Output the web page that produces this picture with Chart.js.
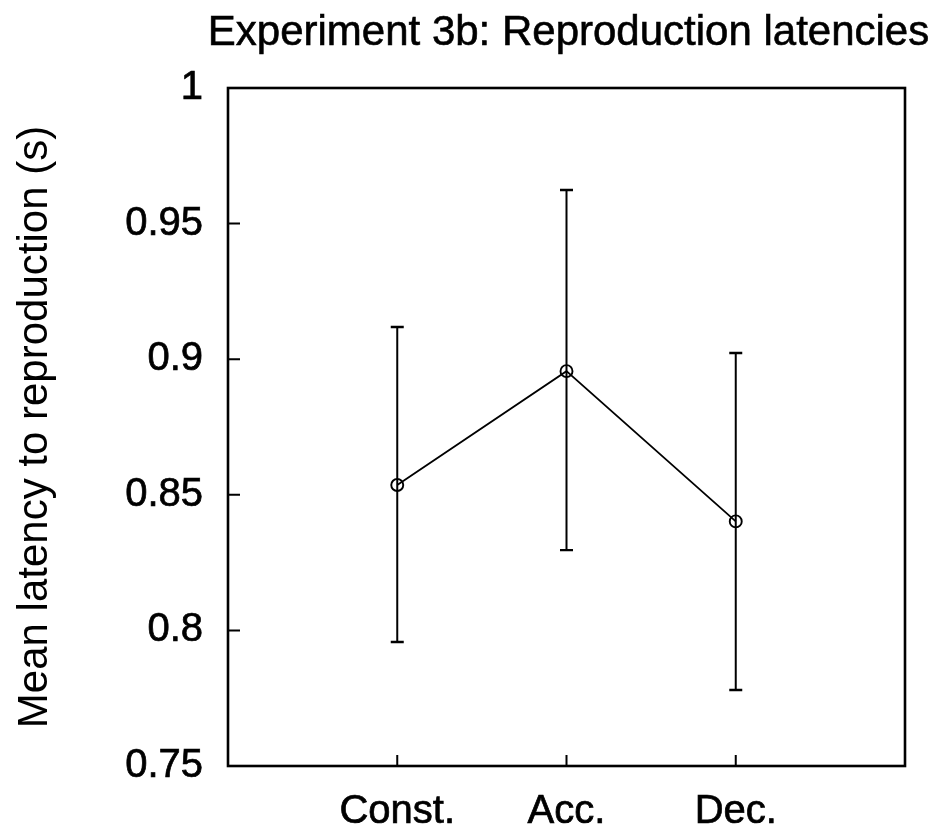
<!DOCTYPE html>
<html>
<head>
<meta charset="utf-8">
<script src="https://cdn.jsdelivr.net/npm/chart.js@4"></script>
<style>
html,body{margin:0;padding:0;background:#fff;}
#wrap{width:936px;height:837px;}
</style>
</head>
<body>
<div id="wrap"><canvas id="c" width="936" height="837"></canvas></div>
<script>
const chartTitle = 'Experiment 3b: Reproduction latencies';
const yAxisTitle = 'Mean latency to reproduction (s)';
const categories = ["Const.", "Acc.", "Dec."];
const xPositions = [1, 2, 3];
const meanLatency = [0.8536, 0.8956, 0.8402];
const upperBound = [0.9119, 0.9624, 0.9023];
const lowerBound = [0.7957, 0.8296, 0.7780];
const yTickValues = [0.75, 0.8, 0.85, 0.9, 0.95, 1];

const FONT = "'Liberation Sans', Arial, sans-serif";

const framePlugin = {
  id: 'frame',
  beforeDatasetsDraw(chart) {
    const ctx = chart.ctx, xs = chart.scales.x, ys = chart.scales.y;
    ctx.save();
    ctx.strokeStyle = '#000';
    for (let i = 0; i < xPositions.length; i++) {
      const px = xs.getPixelForValue(xPositions[i]);
      const pt = ys.getPixelForValue(upperBound[i]);
      const pb = ys.getPixelForValue(lowerBound[i]);
      ctx.lineWidth = 2;
      ctx.beginPath();
      ctx.moveTo(px, pt); ctx.lineTo(px, pb);
      ctx.stroke();
      ctx.lineWidth = 2.4;
      ctx.beginPath();
      ctx.moveTo(px - 6.5, pt); ctx.lineTo(px + 6.5, pt);
      ctx.moveTo(px - 6.5, pb); ctx.lineTo(px + 6.5, pb);
      ctx.stroke();
    }
    ctx.restore();
  },
  afterDraw(chart) {
    const ctx = chart.ctx, a = chart.chartArea, xs = chart.scales.x, ys = chart.scales.y;
    ctx.save();
    ctx.strokeStyle = '#000';
    ctx.lineWidth = 2.6;
    ctx.strokeRect(a.left, a.top, a.right - a.left, a.bottom - a.top);
    ctx.lineWidth = 2;
    ctx.beginPath();
    xs.ticks.forEach(t => {
      const px = xs.getPixelForValue(t.value);
      ctx.moveTo(px, a.bottom); ctx.lineTo(px, a.bottom - 11);
    });
    ys.ticks.forEach(t => {
      const py = ys.getPixelForValue(t.value);
      if (t.value <= 0.751 || t.value >= 0.999) return;
      ctx.moveTo(a.left, py); ctx.lineTo(a.left + 12, py);
    });
    ctx.stroke();
    // chart title, centred over the plot area
    ctx.fillStyle = '#000';
    ctx.font = "42px " + FONT;
    ctx.textAlign = 'center';
    ctx.textBaseline = 'alphabetic';
    ctx.lineWidth = 0.6;
    const cx = (a.left + a.right) / 2 + 2;
    ctx.fillText(chartTitle, cx, 45);
    ctx.strokeText(chartTitle, cx, 45);
    ctx.restore();
  }
};

new Chart(document.getElementById('c'), {
  type: 'line',
  data: {
    datasets: [{
      data: xPositions.map((x, i) => ({ x: x, y: meanLatency[i] })),
      borderColor: '#000',
      borderWidth: 1.8,
      pointStyle: 'circle',
      pointRadius: 6,
      pointBorderWidth: 1.9,
      pointBorderColor: '#000',
      pointBackgroundColor: 'rgba(0,0,0,0)',
      tension: 0,
      fill: false
    }]
  },
  options: {
    responsive: false,
    animation: false,
    devicePixelRatio: 1,
    layout: { padding: { left: 0, right: 31, top: 88, bottom: 0 } },
    plugins: {
      legend: { display: false },
      tooltip: { enabled: false },
      title: { display: false }
    },
    scales: {
      x: {
        type: 'linear',
        min: 0, max: 4,
        afterBuildTicks: s => { s.ticks = xPositions.map(v => ({ value: v })); },
        afterFit: s => { s.height = 71; },
        grid: { display: false, drawTicks: false },
        border: { display: false },
        ticks: {
          color: '#000',
          padding: 22,
          maxRotation: 0,
          textStrokeColor: '#000',
          textStrokeWidth: 0.7,
          font: { family: FONT, size: 40 },
          callback: v => categories[xPositions.indexOf(v)] ?? ''
        }
      },
      y: {
        type: 'linear',
        min: 0.75, max: 1,
        afterBuildTicks: s => { s.ticks = yTickValues.map(v => ({ value: v })); },
        afterFit: s => { s.width = 228; },
        grid: { display: false, drawTicks: false },
        border: { display: false },
        ticks: {
          color: '#000',
          padding: 25,
          textStrokeColor: '#000',
          textStrokeWidth: 0.7,
          font: { family: FONT, size: 40 },
          callback: v => String(parseFloat(v.toFixed(2)))
        },
        title: {
          display: true,
          text: yAxisTitle,
          color: '#000',
          font: { family: FONT, size: 42 },
          padding: { top: 10, bottom: 0 }
        }
      }
    }
  },
  plugins: [framePlugin]
});
</script>
</body>
</html>
